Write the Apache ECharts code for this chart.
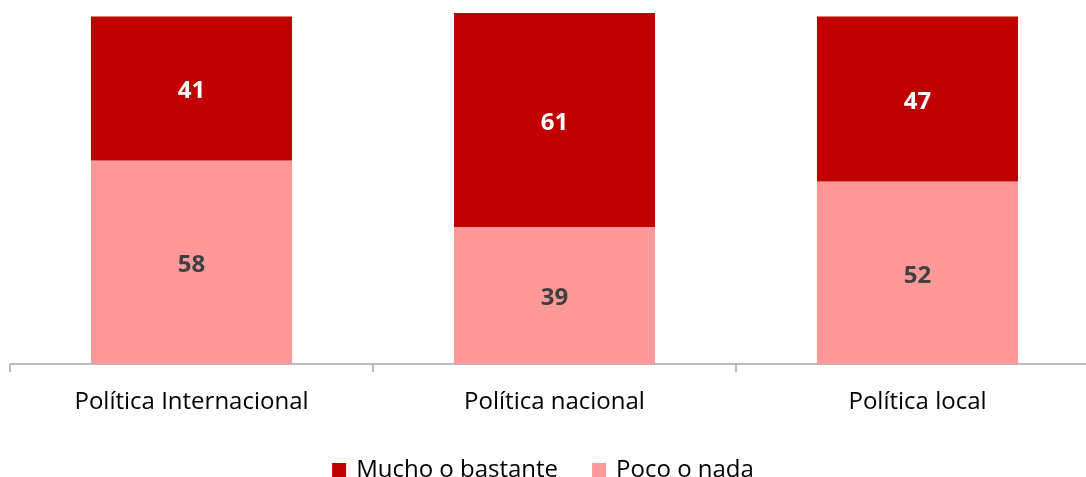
<!DOCTYPE html>
<html>
<head>
<meta charset="utf-8">
<script src="https://cdn.jsdelivr.net/npm/echarts@6/dist/echarts.min.js"></script>
<style>
  html, body { margin: 0; padding: 0; background: #fff; }
  #chart { width: 1086px; height: 477px; }
</style>
</head>
<body>
<div id="chart"></div>
<script>
// datos del gráfico
const categorias = ['Política Internacional', 'Política nacional', 'Política local']
const pocoNada = [58, 39, 52]
const muchoBastante = [41, 61, 47]

const fuente = 'Open Sans'
let myChart = echarts.init(document.getElementById('chart'))

const option = {
  animation: false,
  textStyle: { fontFamily: fuente },
  grid: { left: 10, width: 1089, top: 13, bottom: 113, containLabel: false, outerBoundsMode: 'none' },
  legend: {
    top: 453,
    left: 'center',
    itemWidth: 14,
    itemHeight: 14,
    itemGap: 34,
    icon: 'rect',
    textStyle: { fontSize: 24, color: '#000', fontFamily: fuente, padding: [0, 0, 0, 5] },
    data: ['Mucho o bastante', 'Poco o nada']
  },
  xAxis: {
    type: 'category',
    data: categorias,
    axisLine: { lineStyle: { color: '#A6A6A6', width: 1.5 } },
    axisTick: { show: true, length: 8, lineStyle: { color: '#A6A6A6', width: 1.5 } },
    axisLabel: { fontSize: 24, color: '#000', margin: 26, fontFamily: fuente }
  },
  yAxis: {
    type: 'value',
    min: 0,
    max: 100,
    show: false,
    splitLine: { show: false }
  },
  series: [
    {
      name: 'Poco o nada',
      type: 'bar',
      stack: 'total',
      barWidth: '55.4%',
      data: pocoNada,
      itemStyle: { color: '#FF9999' },
      label: { show: true, position: 'inside', offset: [0, 3], fontSize: 24, fontWeight: 'bold', color: '#404040', fontFamily: fuente }
    },
    {
      name: 'Mucho o bastante',
      type: 'bar',
      stack: 'total',
      data: muchoBastante,
      itemStyle: { color: '#C00000' },
      label: { show: true, position: 'inside', offset: [0, 3], fontSize: 24, fontWeight: 'bold', color: '#fff', fontFamily: fuente }
    }
  ]
}

myChart.setOption(option)
window.addEventListener('resize', () => myChart.resize())
</script>
</body>
</html>
